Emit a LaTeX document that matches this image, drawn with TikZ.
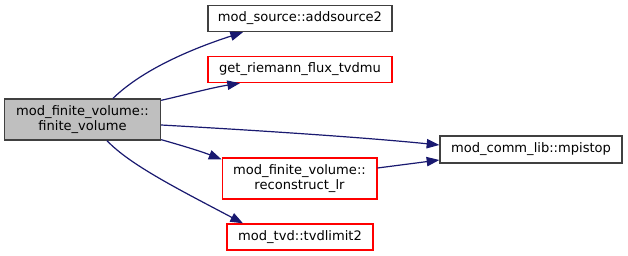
\documentclass[tikz,border=0pt]{standalone}
\usepackage{fontspec}
\setmainfont{DejaVu Sans}
\usetikzlibrary{arrows.meta,calc}
\definecolor{edgeblue}{HTML}{191970}
\definecolor{boxgrey}{HTML}{BFBFBF}
\definecolor{darkborder}{HTML}{404040}
\begin{document}
\begin{tikzpicture}[x=0.75pt,y=-0.75pt,
  fn/.style={draw, rectangle, line width=1pt, inner sep=0pt, align=center,
    font=\fontsize{9.8pt}{9.75pt}\selectfont, minimum height=#1},
  fn/.default=19.5pt,
  plainbox/.style={fn, draw=darkborder},
  redbox/.style={fn, draw=red},
  rootbox/.style={fn=30.75pt, draw=darkborder, fill=boxgrey},
  call/.style={draw=edgeblue, line width=0.9pt,
    -{Triangle[length=9.5pt,width=7pt]}}]
\useasboundingbox (0,0) rectangle (628,256);
\fill[white] (0,0) rectangle (628,256);

\node[rootbox, minimum width=117pt] (main) at (82.5,119.5)
  {mod\_finite\_volume::\\finite\_volume};
\node[plainbox, minimum width=138pt] (addsource) at (300,18.5)
  {mod\_source::addsource2};
\node[redbox, minimum width=138pt] (riemann) at (300,69.5)
  {get\_riemann\_flux\_tvdmu};
\node[redbox, fn=30.75pt, minimum width=116pt] (reconstruct) at (299.5,178.5)
  {mod\_finite\_volume::\\reconstruct\_lr};
\node[redbox, minimum width=109.5pt] (tvdlimit) at (300,237)
  {mod\_tvd::tvdlimit2};
\node[plainbox, minimum width=136.5pt, minimum height=20.25pt] (mpistop) at (531,149.5)
  {mod\_comm\_lib::mpistop};

\draw[call] ($(main.north)+(30.5,0)$) .. controls (140,72) and (185,51) ..
  ($(addsource.south)+(-57,0)$);
\draw[call] ($(main.north east)+(0,2)$) .. controls (185,95) and (210,88) ..
  ($(riemann.south)+(-60,0)$);
\draw[call] ($(main.east)+(0,5.5)$) .. controls (250,130) and (360,137) ..
  ($(mpistop.west)+(0,-4.5)$);
\draw[call] ($(main.south east)+(0,-1)$) .. controls (180,145) and (200,151) ..
  ($(reconstruct.north west)+(0,2)$);
\draw[call] ($(main.south)+(24.5,0)$) .. controls (130,165) and (180,190) ..
  ($(tvdlimit.north)+(-57,0)$);
\draw[call] ($(reconstruct.east)+(0,-10.5)$) -- ($(mpistop.west)+(0,10.5)$);
\end{tikzpicture}
\end{document}
